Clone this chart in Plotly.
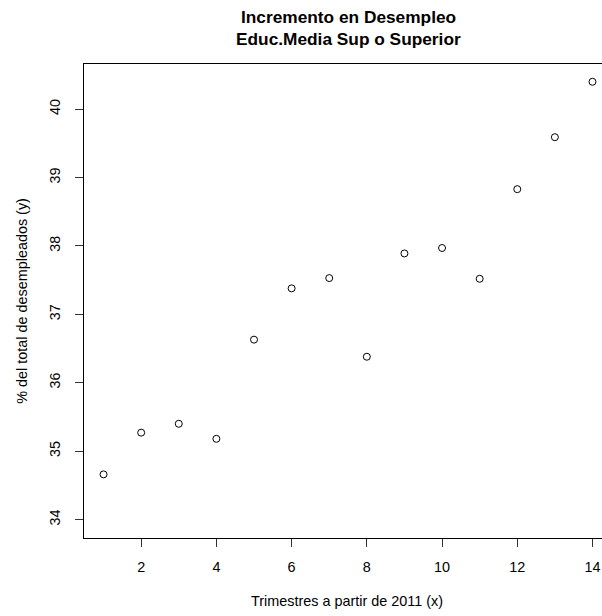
import plotly.graph_objects as go

# Trimestres a partir de 2011 y % de desempleados con educ. media sup o superior
trimestres = [1, 2, 3, 4, 5, 6, 7, 8, 9, 10, 11, 12, 13, 14]
pct_desempleados = [34.66, 35.27, 35.40, 35.18, 36.63, 37.38, 37.53,
                    36.38, 37.89, 37.97, 37.52, 38.83, 39.59, 40.40]
x_ticks = [2, 4, 6, 8, 10, 12, 14]
y_ticks = [34, 35, 36, 37, 38, 39, 40]

FONT = "Liberation Sans, Arial, Helvetica, sans-serif"
W, H = 602, 616
L, T, B = 84, 64, 78

fig = go.Figure()
fig.add_trace(go.Scatter(
    x=trimestres, y=pct_desempleados, mode="markers",
    marker=dict(symbol="circle-open", size=7, color="black", line=dict(width=1)),
    showlegend=False, cliponaxis=False,
))

fig.update_xaxes(
    range=[0.48, 14.253], tickvals=x_ticks, ticks="outside", ticklen=8,
    tickcolor="#333", tickwidth=1, showline=True, linecolor="black", linewidth=1,
    mirror=True, showgrid=False, zeroline=False, ticklabelstandoff=8,
    tickfont=dict(family=FONT, size=14.4, color="black"),
)
fig.update_yaxes(
    range=[33.73, 40.66], tickvals=y_ticks, ticks="outside", ticklen=8,
    tickcolor="#333", tickwidth=1, showline=True, linecolor="black", linewidth=1,
    mirror=False, showgrid=False, zeroline=False, tickangle=-90, ticklabelstandoff=9,
    tickfont=dict(family=FONT, size=14.4, color="black"),
)


def px_label(text, px_x, px_y, size, angle=0):
    # place a text by its pixel centre on the page
    fig.add_annotation(
        text=text, showarrow=False, textangle=angle,
        xref="paper", yref="paper", xanchor="center", yanchor="middle",
        x=(px_x - L) / (W - L), y=1 - (px_y - T) / (H - T - B),
        font=dict(family=FONT, size=size, color="black"),
    )


px_label("<b>Incremento en Desempleo</b>", 348, 17, 17.3)
px_label("<b>Educ.Media Sup o Superior</b>", 348, 39, 17.3)
px_label("Trimestres a partir de 2011 (x)", 347, 601, 14.4)
px_label("% del total de desempleados (y)", 21.7, 301, 14.4, angle=-90)

fig.update_layout(
    width=W, height=H, margin=dict(l=L, r=0, t=T, b=B),
    paper_bgcolor="white", plot_bgcolor="white",
    font=dict(family=FONT, color="black"),
)

fig.write_html(
    "out.html",
    config={"displayModeBar": False},
    post_script="document.body.style.margin='0';document.body.style.overflow='hidden';",
)
